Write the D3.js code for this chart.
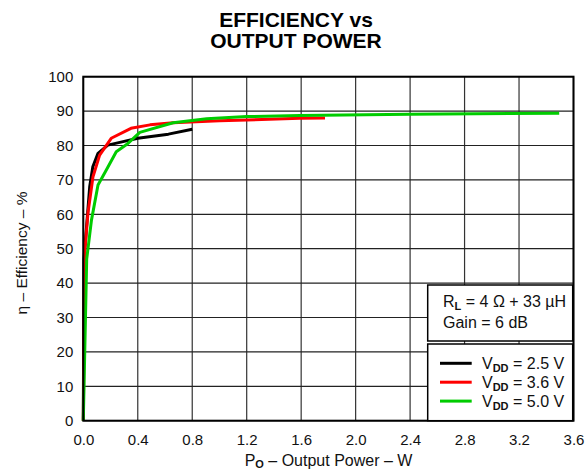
<!DOCTYPE html>
<html><head><meta charset="utf-8">
<script src="https://cdn.jsdelivr.net/npm/d3@7"></script>
<style>body{margin:0;background:#fff}svg{display:block;font-family:"Liberation Sans",Arial,sans-serif}</style>
</head><body><svg id="c" width="585" height="472"></svg>
<script>
const xTicks = [0, 0.4, 0.8, 1.2, 1.6, 2.0, 2.4, 2.8, 3.2, 3.6];
const yTicks = [0, 10, 20, 30, 40, 50, 60, 70, 80, 90, 100];
const seriesNames = ["2.5 V", "3.6 V", "5.0 V"];
const seriesColors = ["#000000", "#ff0000", "#00cc00"];
const vdd25 = [[0,0],[0.005,47],[0.022,55.5],[0.047,68],[0.07,73.8],[0.108,77.7],[0.18,80.1],[0.30,81.2],[0.40,82.1],[0.625,83.3],[0.80,84.7]];
const vdd36 = [[0,0],[0.01,48.7],[0.034,60.3],[0.071,70.9],[0.12,77.2],[0.205,82.1],[0.35,85],[0.49,86],[0.66,86.6],[1.0,87.2],[1.59,87.9],[1.775,88.0]];
const vdd50 = [[0,0],[0.025,47],[0.06,58.3],[0.108,68.5],[0.169,72.9],[0.242,78.2],[0.328,80.6],[0.415,83.8],[0.66,86.6],[0.906,87.8],[1.2,88.4],[1.59,88.7],[2.4,89.1],[3.495,89.4]];
const series = [vdd25, vdd36, vdd50];

const svg = d3.select("#c");
const L = 83.3, R = 573.5, T = 76.7, B = 420.7;
const x = d3.scaleLinear().domain([0, 3.6]).range([L, R]);
const y = d3.scaleLinear().domain([0, 100]).range([B, T]);

// grid
const g = svg.append("g");
g.selectAll(".vx").data(xTicks).join("line")
  .attr("x1", d => x(d)).attr("x2", d => x(d)).attr("y1", T).attr("y2", B)
  .attr("stroke", "#333").attr("stroke-width", 1.2);
g.selectAll(".hy").data(yTicks).join("line")
  .attr("x1", L).attr("x2", R).attr("y1", d => y(d)).attr("y2", d => y(d))
  .attr("stroke", "#222").attr("stroke-width", 1.2);

// axes labels via d3 axes
const xa = svg.append("g").attr("transform", `translate(0,${B})`)
  .call(d3.axisBottom(x).tickValues(xTicks).tickFormat(d3.format(".1f")).tickSize(0).tickPadding(14));
const ya = svg.append("g").attr("transform", `translate(${L},0)`)
  .call(d3.axisLeft(y).tickValues(yTicks).tickSize(0).tickPadding(10));
[xa, ya].forEach(a => { a.select(".domain").remove(); a.selectAll("text").attr("font-size", 15).attr("fill", "#111").attr("font-family", "Liberation Sans, Arial, sans-serif"); });

// lines
const line = d3.line().x(d => x(d[0])).y(d => y(d[1]));
svg.selectAll(".s").data(series).join("path")
  .attr("d", line).attr("fill", "none")
  .attr("stroke", (d, i) => seriesColors[i]).attr("stroke-width", 3).attr("stroke-linejoin", "round");

// border
svg.append("rect").attr("x", L).attr("y", T).attr("width", R - L).attr("height", B - T)
  .attr("fill", "none").attr("stroke", "#000").attr("stroke-width", 2);

// info box
svg.append("rect").attr("x", 427.7).attr("y", 285).attr("width", 145).attr("height", 56)
  .attr("fill", "#fff").attr("stroke", "#000").attr("stroke-width", 1.5);
const t1 = svg.append("text").attr("x", 443).attr("y", 307).attr("font-size", 16).attr("fill", "#111");
t1.append("tspan").text("R");
t1.append("tspan").text("L").attr("font-size", 11).attr("font-weight", "bold").attr("dy", 3);
t1.append("tspan").text(" = 4 Ω + 33 µH").attr("dy", -3);
svg.append("text").attr("x", 443).attr("y", 328).attr("font-size", 16).attr("fill", "#111").text("Gain = 6 dB");

// legend box
svg.append("rect").attr("x", 427.7).attr("y", 344).attr("width", 145).attr("height", B - 344)
  .attr("fill", "#fff").attr("stroke", "#000").attr("stroke-width", 1.5);
seriesNames.forEach((n, i) => {
  const yy = 363.3 + i * 18.9;
  svg.append("line").attr("x1", 440).attr("x2", 471.7).attr("y1", yy).attr("y2", yy)
    .attr("stroke", seriesColors[i]).attr("stroke-width", 3);
  const t = svg.append("text").attr("x", 482).attr("y", yy + 5.5).attr("font-size", 16).attr("fill", "#111");
  t.append("tspan").text("V");
  t.append("tspan").text("DD").attr("font-size", 11).attr("font-weight", "bold").attr("dy", 3);
  t.append("tspan").text(" = " + n).attr("dy", -3);
});

// title
svg.append("text").attr("x", 296).attr("y", 26.7).attr("text-anchor", "middle")
  .attr("font-size", 21).attr("font-weight", "bold").text("EFFICIENCY vs");
svg.append("text").attr("x", 296).attr("y", 48.3).attr("text-anchor", "middle")
  .attr("font-size", 21).attr("font-weight", "bold").text("OUTPUT POWER");

// x label
const xl = svg.append("text").attr("x", 328.5).attr("y", 465.5).attr("text-anchor", "middle").attr("font-size", 16).attr("fill", "#111");
xl.append("tspan").text("P");
xl.append("tspan").text("O").attr("font-size", 11).attr("font-weight", "bold").attr("dy", 2.5);
xl.append("tspan").text(" – Output Power – W").attr("dy", -2.5);

// y label
svg.append("text").attr("transform", `translate(27,253) rotate(-90)`)
  .attr("text-anchor", "middle").attr("font-size", 15.5).attr("fill", "#111").text("η – Efficiency – %");
</script></body></html>
